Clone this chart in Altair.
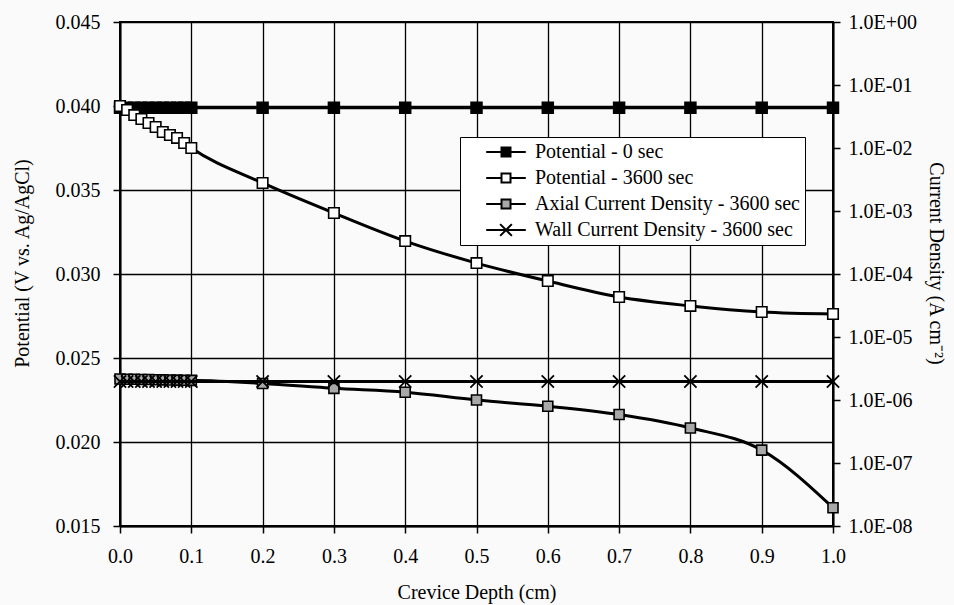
import altair as alt
import pandas as pd

# ---- data ----
depth = [0.0, 0.01, 0.02, 0.03, 0.04, 0.05, 0.06, 0.07, 0.08, 0.09, 0.1,
         0.2, 0.3, 0.4, 0.5, 0.6, 0.7, 0.8, 0.9, 1.0]

pot_0 = [0.0399, 0.0399, 0.0399, 0.0399, 0.0399, 0.0399, 0.0399, 0.0399, 0.0399, 0.0399, 0.0399,
         0.0399, 0.0399, 0.0399, 0.0399, 0.0399, 0.0399, 0.0399, 0.0399, 0.0399]

pot_3600 = [0.0400, 0.03976, 0.03946, 0.03923, 0.03899, 0.03875, 0.03845, 0.03827, 0.03810, 0.03780, 0.0375,
            0.03542, 0.03363, 0.03196, 0.03065, 0.02958, 0.02863, 0.02810, 0.02774, 0.02762]

axial_3600 = [2.15e-6, 2.14e-6, 2.13e-6, 2.12e-6, 2.11e-6, 2.10e-6, 2.09e-6, 2.08e-6, 2.07e-6, 2.06e-6, 2.05e-6,
              1.83e-6, 1.53e-6, 1.33e-6, 1.0e-6, 7.97e-7, 5.88e-7, 3.6e-7, 1.6e-7, 1.95e-8]

wall_3600 = [1.96e-6, 1.96e-6, 1.96e-6, 1.96e-6, 1.96e-6, 1.96e-6, 1.96e-6, 1.96e-6, 1.96e-6, 1.96e-6, 1.96e-6,
             1.96e-6, 1.96e-6, 1.96e-6, 1.96e-6, 1.96e-6, 1.96e-6, 1.96e-6, 1.96e-6, 1.96e-6]

series_names = ["Potential - 0 sec", "Potential - 3600 sec",
                "Axial Current Density - 3600 sec", "Wall Current Density - 3600 sec"]

x_ticks = [0.0, 0.1, 0.2, 0.3, 0.4, 0.5, 0.6, 0.7, 0.8, 0.9, 1.0]
left_ticks = [0.015, 0.020, 0.025, 0.030, 0.035, 0.040, 0.045]
right_ticks = [1e-8, 1e-7, 1e-6, 1e-5, 1e-4, 1e-3, 1e-2, 1e-1, 1.0]

rows = []
for name, vals in zip(series_names, [pot_0, pot_3600, axial_3600, wall_3600]):
    for xv, yv in zip(depth, vals):
        rows.append({"x": xv, "value": yv, "series": name})
df = pd.DataFrame(rows)

FONT = "Liberation Serif"

xenc = alt.X("x:Q",
             scale=alt.Scale(domain=[0, 1], nice=False, zero=False),
             axis=alt.Axis(values=x_ticks, format=".1f", title="Crevice Depth (cm)",
                           grid=True, tickSize=7, labelPadding=13, labelFlush=False,
                           titleY=66, titleBaseline="middle"))

y_left = alt.Y("value:Q",
               scale=alt.Scale(domain=[0.015, 0.045], nice=False, zero=False),
               axis=alt.Axis(values=left_ticks, format=".3f", title="Potential (V vs. Ag/AgCl)",
                             grid=True, tickSize=7, labelPadding=13, labelFlush=False,
                             titleX=-98, titleY=241, titleBaseline="middle"))

y_right = alt.Y("value:Q",
                scale=alt.Scale(type="log", domain=[1e-8, 1.0], nice=False),
                axis=alt.Axis(values=right_ticks, orient="right", grid=False, labelFlush=False,
                              title="Current Density (A cm⁻²)",
                              labelExpr="'1.0E' + (datum.value >= 0.5 ? '+00' : '-0' + format(round(-log(datum.value)/LN10), 'd'))",
                              tickSize=7, labelPadding=8,
                              titleX=102, titleY=241, titleBaseline="middle"))


def layers_for(name, yenc, point_mark):
    b = alt.Chart(df).transform_filter(alt.datum.series == name)
    line = b.mark_line(color="black", strokeWidth=3, interpolate="monotone").encode(x=xenc, y=yenc)
    pts = b.mark_point(**point_mark).encode(x=xenc, y=yenc)
    return [line, pts]


X_PATH = "M-1,-1L1,1M-1,1L1,-1"

left = alt.layer(
    *layers_for(series_names[0], y_left,
                dict(shape="square", filled=True, fill="black", stroke="black", size=110, opacity=1)),
    *layers_for(series_names[1], y_left,
                dict(shape="square", filled=True, fill="white", stroke="black", strokeWidth=1.6, size=110, opacity=1)),
)

right = alt.layer(
    *layers_for(series_names[2], y_right,
                dict(shape="square", filled=True, fill="#a8a8a8", stroke="black", strokeWidth=1.6, size=100, opacity=1)),
    *layers_for(series_names[3], y_right,
                dict(shape=X_PATH, filled=False, stroke="black", strokeWidth=1.8, size=150, opacity=1)),
)

legend_paths = [
    "M-4.4,0L-1,0M-1,-1L1,-1L1,1L-1,1ZM1,0L4.4,0",
    "M-4.4,0L-1,0M-1,-1L1,-1L1,1L-1,1ZM1,0L4.4,0",
    "M-4.4,0L-1,0M-1,-1L1,-1L1,1L-1,1ZM1,0L4.4,0",
    "M-4.4,0L4.4,0M-1.3,-1.3L1.3,1.3M-1.3,1.3L1.3,-1.3",
]
legend_fills = ["black", "white", "#a8a8a8", "white"]
legend_strokes = ["black", "black", "black", "black"]

leg = alt.Legend(title=None, orient="none", legendX=340, legendY=115,
                 strokeColor="black", fillColor="white", padding=5,
                 labelFont=FONT, labelFontSize=20, labelColor="black", labelLimit=500,
                 symbolSize=81, symbolOffset=31, labelOffset=19, rowPadding=6,
                 symbolStrokeWidth=2)

legend_layer = alt.Chart(pd.DataFrame({"series": series_names})).transform_filter("false").mark_point(
    filled=True, strokeWidth=2, opacity=1
).encode(
    shape=alt.Shape("series:N", scale=alt.Scale(domain=series_names, range=legend_paths), legend=leg),
    fill=alt.Fill("series:N", scale=alt.Scale(domain=series_names, range=legend_fills), legend=leg),
    stroke=alt.Stroke("series:N", scale=alt.Scale(domain=series_names, range=legend_strokes), legend=leg),
)

chart = alt.layer(left, right, legend_layer).resolve_scale(
    y="independent", shape="independent", fill="independent", stroke="independent"
).properties(
    width=713, height=504,
    autosize=alt.AutoSizeParams(type="none"),
    padding={"left": 120, "top": 22, "right": 121, "bottom": 79},
    background="#fafafa",
).configure_view(
    stroke="black", strokeWidth=2, fill="#fafafa"
).configure_axis(
    labelFont=FONT, titleFont=FONT, labelFontSize=20, titleFontSize=20,
    labelColor="black", titleColor="black", titleFontWeight="normal",
    tickColor="black", tickWidth=1.5, domainColor="black", domainWidth=2,
    gridColor="black", gridWidth=1.3, gridOpacity=1,
)

chart.save("out.html", embed_options={"renderer": "svg", "actions": False})
